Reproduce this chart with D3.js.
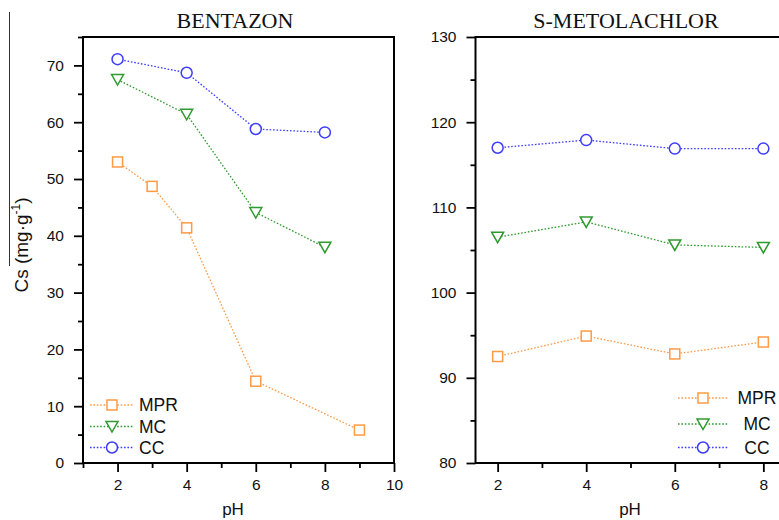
<!DOCTYPE html>
<html>
<head>
<meta charset="utf-8">
<script src="https://cdn.jsdelivr.net/npm/d3@7/dist/d3.min.js"></script>
<style>
  html, body { margin: 0; padding: 0; background: #fff; }
  svg { display: block; }
  .tick text { font-family: "Liberation Sans", Arial, sans-serif; font-size: 15.5px; fill: #111; }
</style>
</head>
<body>
<svg id="chart" width="779" height="520"></svg>
<script>
// Adsorbed amount Cs (mg·g-1) versus pH for three sorbents
const seriesNames = ["MPR", "MC", "CC"];
const seriesColors = ["#ff9a45", "#2f9a2f", "#3c3cff"];
const seriesSymbols = ["square", "triangleDown", "circle"];

// BENTAZON panel
const bentazonPhMPR = [2, 3, 4, 6, 9];
const bentazonMPR   = [53.0, 48.7, 41.4, 14.4, 5.8];
const bentazonPh    = [2, 4, 6, 8];
const bentazonMC    = [67.5, 61.4, 44.1, 38.0];
const bentazonCC    = [71.1, 68.7, 58.8, 58.2];

// S-METOLACHLOR panel
const metolachlorPh  = [2, 4, 6, 8];
const metolachlorMPR = [92.5, 94.9, 92.8, 94.2];
const metolachlorMC  = [106.5, 108.3, 105.6, 105.3];
const metolachlorCC  = [117.0, 117.9, 116.9, 116.9];

// Axis ticks
const bentazonXMajor = [2, 4, 6, 8, 10];
const bentazonXMinor = [1, 3, 5, 7, 9];
const bentazonYMajor = [0, 10, 20, 30, 40, 50, 60, 70];
const bentazonYMinor = [5, 15, 25, 35, 45, 55, 65, 75];
const metolachlorXMajor = [2, 4, 6, 8];
const metolachlorXMinor = [3, 5, 7];
const metolachlorYMajor = [80, 90, 100, 110, 120, 130];
const metolachlorYMinor = [85, 95, 105, 115, 125];

const svg = d3.select("#chart");
const sans = "'Liberation Sans', Arial, sans-serif";
const serif = "'Liberation Serif', 'Times New Roman', serif";

function zip(xs, ys) { return xs.map((x, i) => ({ x, y: ys[i] })); }

function marker(g, kind, cx, cy, color) {
  if (kind === "square") {
    g.append("rect").attr("x", cx - 5).attr("y", cy - 5).attr("width", 10).attr("height", 10)
      .attr("fill", "#fff").attr("stroke", color).attr("stroke-width", 1.5);
  } else if (kind === "circle") {
    g.append("circle").attr("cx", cx).attr("cy", cy).attr("r", 5.5)
      .attr("fill", "#fff").attr("stroke", color).attr("stroke-width", 1.5);
  } else {
    g.append("path")
      .attr("d", `M${cx - 6},${cy - 5}L${cx + 6},${cy - 5}L${cx},${cy + 5.5}Z`)
      .attr("fill", "#fff").attr("stroke", color).attr("stroke-width", 1.5);
  }
}

function panel(opts) {
  const x = d3.scaleLinear().domain(opts.xDomain).range(opts.xRange);
  const y = d3.scaleLinear().domain(opts.yDomain).range([463, 37]);
  const g = svg.append("g");

  // frame
  g.append("rect")
    .attr("x", x.range()[0]).attr("y", 37)
    .attr("width", x.range()[1] - x.range()[0]).attr("height", 426)
    .attr("fill", "none").attr("stroke", "#000").attr("stroke-width", 2);

  // axes: major ticks with labels, minor ticks without
  const xMaj = g.append("g").attr("transform", "translate(0,463)")
    .call(d3.axisBottom(x).tickValues(opts.xMajor).tickSize(9).tickPadding(7).tickFormat(d3.format("d")));
  const xMin = g.append("g").attr("transform", "translate(0,463)")
    .call(d3.axisBottom(x).tickValues(opts.xMinor).tickSize(5).tickFormat(""));
  const yMaj = g.append("g").attr("transform", `translate(${x.range()[0]},0)`)
    .call(d3.axisLeft(y).tickValues(opts.yMajor).tickSize(9).tickPadding(10).tickFormat(d3.format("d")));
  const yMin = g.append("g").attr("transform", `translate(${x.range()[0]},0)`)
    .call(d3.axisLeft(y).tickValues(opts.yMinor).tickSize(5).tickFormat(""));
  [xMaj, xMin, yMaj, yMin].forEach(a => {
    a.select(".domain").remove();
    a.selectAll(".tick line").attr("stroke", "#000").attr("stroke-width", 1.8);
  });

  // series
  opts.series.forEach((s, i) => {
    const pts = zip(s.x, s.y);
    g.append("path").datum(pts)
      .attr("d", d3.line().x(d => x(d.x)).y(d => y(d.y)))
      .attr("fill", "none").attr("stroke", seriesColors[i])
      .attr("stroke-width", 1.3).attr("stroke-dasharray", "1.6,1.8");
    pts.forEach(p => marker(g, seriesSymbols[i], x(p.x), y(p.y), seriesColors[i]));
  });

  // title
  g.append("text").attr("x", opts.titleX).attr("y", 28)
    .attr("text-anchor", "middle").attr("font-family", serif).attr("font-size", 22)
    .attr("fill", "#111").text(opts.title);

  // x label
  g.append("text").attr("x", opts.labelX).attr("y", 515)
    .attr("text-anchor", "middle").attr("font-family", sans).attr("font-size", 17)
    .attr("fill", "#111").text("pH");

  // legend
  const lg = g.append("g");
  seriesNames.forEach((name, i) => {
    const ly = opts.legend.y[i];
    lg.append("line").attr("x1", opts.legend.x1).attr("x2", opts.legend.x2)
      .attr("y1", ly).attr("y2", ly).attr("stroke", seriesColors[i])
      .attr("stroke-width", 1.3).attr("stroke-dasharray", "1.6,1.8");
    marker(lg, seriesSymbols[i], (opts.legend.x1 + opts.legend.x2) / 2, ly, seriesColors[i]);
    lg.append("text").attr("x", opts.legend.tx).attr("y", ly + 6)
      .attr("text-anchor", opts.legend.anchor)
      .attr("font-family", sans).attr("font-size", 17.5).attr("fill", "#111").text(name);
  });
}

panel({
  title: "BENTAZON", titleX: 235, labelX: 233,
  xDomain: [1, 10], xRange: [83, 394], yDomain: [0, 75],
  xMajor: bentazonXMajor, xMinor: bentazonXMinor,
  yMajor: bentazonYMajor, yMinor: bentazonYMinor,
  series: [
    { x: bentazonPhMPR, y: bentazonMPR },
    { x: bentazonPh, y: bentazonMC },
    { x: bentazonPh, y: bentazonCC }
  ],
  legend: { x1: 90, x2: 134, y: [405, 426.5, 447.5], tx: 139, anchor: "start" }
});

panel({
  title: "S-METOLACHLOR", titleX: 626, labelX: 630,
  xDomain: [1.5, 8.5], xRange: [475.5, 785.5], yDomain: [80, 130],
  xMajor: metolachlorXMajor, xMinor: metolachlorXMinor,
  yMajor: metolachlorYMajor, yMinor: metolachlorYMinor,
  series: [
    { x: metolachlorPh, y: metolachlorMPR },
    { x: metolachlorPh, y: metolachlorMC },
    { x: metolachlorPh, y: metolachlorCC }
  ],
  legend: { x1: 678, x2: 728, y: [398, 424, 447.5], tx: 757, anchor: "middle" }
});

// y-axis title with overbar on the left
svg.append("line").attr("x1", 9.5).attr("x2", 9.5).attr("y1", 12).attr("y2", 266)
  .attr("stroke", "#333").attr("stroke-width", 1);
const yt = svg.append("text")
  .attr("transform", "translate(28,245) rotate(-90)")
  .attr("text-anchor", "middle").attr("font-family", sans).attr("font-size", 19).attr("fill", "#111");
yt.append("tspan").text("Cs (mg·g");
yt.append("tspan").attr("font-size", 12).attr("dy", -8).text("-1");
yt.append("tspan").attr("dy", 8).text(")");
</script>
</body>
</html>
